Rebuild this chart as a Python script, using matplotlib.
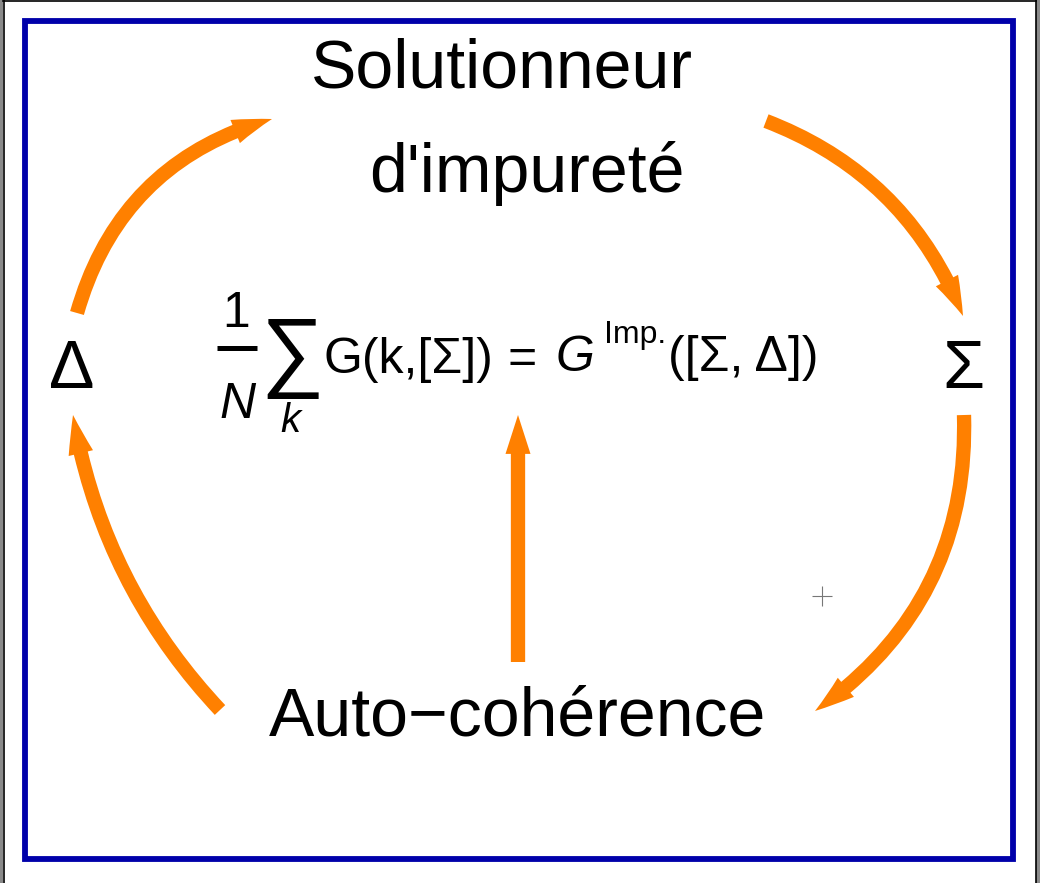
import matplotlib
matplotlib.use("Agg")
from matplotlib import pyplot as plt
from matplotlib.patches import FancyArrowPatch, Rectangle

# Diagram labels
top_labels = ["Solutionneur", "d'impureté"]
bottom_label = "Auto\u2212cohérence"
left_symbol = "Δ"
right_symbol = "Σ"

# Arrows of the loop (pixel coords: start, tip, curvature)
arrow_starts = [(77, 313), (766, 121), (964, 415), (220, 710), (518, 662)]
arrow_ends = [(272, 119), (963, 316), (815, 711), (73, 415), (518, 415)]
arrow_rads = [-0.28, -0.22, -0.27, -0.15, 0.0]

orange = "#ff8000"
blue = "#0000aa"
font = "Liberation Sans"

fig = plt.figure(figsize=(10.4, 8.83), dpi=100)
ax = fig.add_axes([0, 0, 1, 1])
ax.set_xlim(0, 1040)
ax.set_ylim(883, 0)
ax.axis("off")

# window border
ax.add_patch(Rectangle((0, 0), 3, 883, color="#8a8a8a", lw=0))
ax.add_patch(Rectangle((1036, 0), 4, 883, color="#8a8a8a", lw=0))
ax.plot([3.5, 3.5], [0, 883], color="black", lw=1.2)
ax.plot([1035.5, 1035.5], [0, 883], color="black", lw=1.2)
ax.plot([3, 1036], [0.7, 0.7], color="black", lw=1.2)

# blue frame
ax.add_patch(Rectangle((24.5, 21), 988, 838, fill=False, ec=blue, lw=4.2))

# arrows
for start, end, rad in zip(arrow_starts, arrow_ends, arrow_rads):
    arr = FancyArrowPatch(start, end,
                          arrowstyle="simple,head_length=28,head_width=18,tail_width=10.3",
                          connectionstyle="arc3,rad={}".format(rad),
                          mutation_scale=1, color=orange, lw=0,
                          shrinkA=0, shrinkB=0)
    ax.add_patch(arr)

# big labels
ax.text(502, 87, top_labels[0], fontsize=49, family=font, ha="center", va="baseline")
ax.text(527, 192, top_labels[1], fontsize=49, family=font, ha="center", va="baseline")
ax.text(518, 735, bottom_label, fontsize=49, family=font, ha="center", va="baseline")
ax.text(72, 388, left_symbol, fontsize=49, family=font, ha="center", va="baseline")
ax.text(963, 388, right_symbol, fontsize=49, family=font, ha="center", va="baseline")

# formula
fs = 36
ax.text(236, 327, "1", fontsize=fs, family=font, ha="center", va="baseline")
ax.plot([217, 257], [348, 348], color="black", lw=3.6, solid_capstyle="butt")
ax.text(238, 418, "N", fontsize=fs, family=font, style="italic", ha="center", va="baseline")
ax.text(292, 380, "∑", fontsize=64, family=[font, "DejaVu Sans"], ha="center", va="baseline")
ax.text(290, 432, "k", fontsize=29, family=font, style="italic", ha="center", va="baseline")
ax.text(324, 373, "G(k,[Σ])", fontsize=fs, family=font, ha="left", va="baseline")
ax.text(522, 373, "=", fontsize=fs, family=font, ha="center", va="baseline")
ax.text(556, 371, "G", fontsize=fs, family=font, style="italic", ha="left", va="baseline")
ax.text(604, 343, "Imp.", fontsize=23, family=font, ha="left", va="baseline")
ax.text(668, 371, "([Σ, Δ])", fontsize=fs, family=font, ha="left", va="baseline")

# small cursor cross
ax.plot([822], [596], marker="+", markersize=14, mew=0.8, color="#777777")

fig.savefig("out.png", dpi=100)
